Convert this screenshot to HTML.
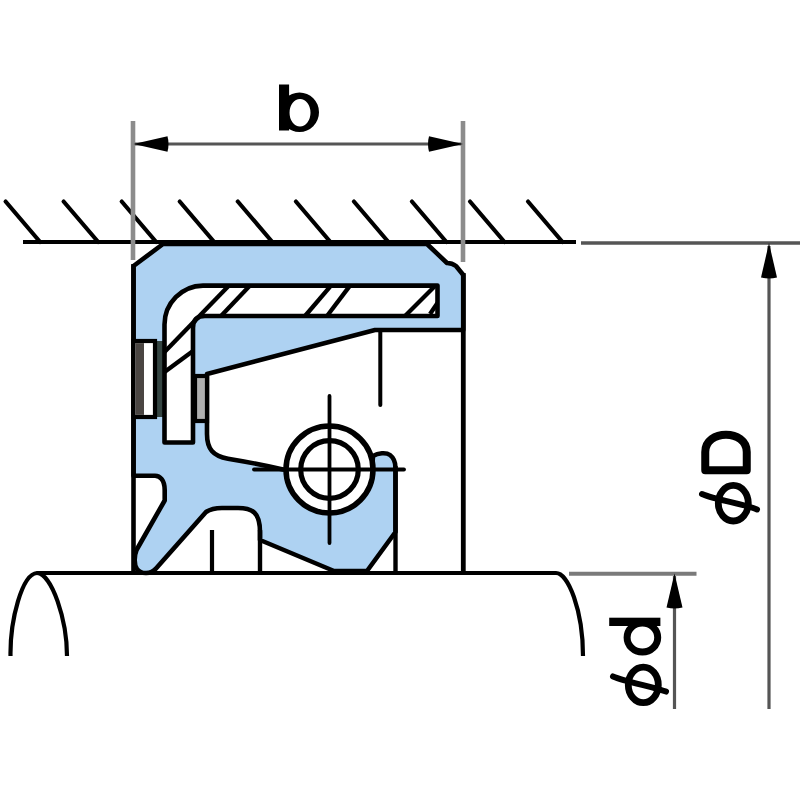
<!DOCTYPE html>
<html>
<head>
<meta charset="utf-8">
<style>
html,body{margin:0;padding:0;background:#fff;width:800px;height:800px;overflow:hidden;}
svg{display:block;}
</style>
</head>
<body>
<svg width="800" height="800" viewBox="0 0 800 800">
<rect x="0" y="0" width="800" height="800" fill="#ffffff"/>

<!-- housing hatching -->
<g stroke="#000" stroke-width="4.2" stroke-linecap="round" fill="none">
  <line x1="5.6" y1="201.5" x2="40.1" y2="242"/>
  <line x1="63.6" y1="201.5" x2="98.2" y2="242"/>
  <line x1="121.7" y1="201.5" x2="156.2" y2="242"/>
  <line x1="179.7" y1="201.5" x2="214.2" y2="242"/>
  <line x1="237.8" y1="201.5" x2="272.3" y2="242"/>
  <line x1="295.9" y1="201.5" x2="330.4" y2="242"/>
  <line x1="353.9" y1="201.5" x2="388.4" y2="242"/>
  <line x1="411.9" y1="201.5" x2="446.4" y2="242"/>
  <line x1="470.0" y1="201.5" x2="504.5" y2="242"/>
  <line x1="528.0" y1="201.5" x2="562.5" y2="242"/>
</g>

<!-- seal body (blue) -->
<path fill="#aed2f2" stroke="#000" stroke-width="4.6" stroke-linejoin="round"
 d="M133.5 266 L163 244 L427 244 L447 263 Q452 263 456 266 L463.3 275 L463.3 330 L375 330 L207 374 L207 434
    C207 449 213 456 228 458.7 C240 460.7 262 464.5 283 469.5 L372 469.5 L373 456 C378 453 386 452 390 455 C394 458 395.5 462 395.5 468 L395.5 532 L367 571 L334 571 L260 540 L260 532
    C260 512 252 508 238 508 L222 508 C214 508 209 510 206 512 L156 568.5 C151 574.5 141 574.5 137 569 C134 565 134 556 136.5 550
    L164.7 500.5 L164.7 490 C164.7 480 160 475.7 155 475.7 L133.5 475.7 Z"/>

<!-- left outer edge full -->
<line x1="133.5" y1="264" x2="133.5" y2="572" stroke="#000" stroke-width="4.6"/>
<!-- right outer edge continuing to shaft -->
<line x1="463.3" y1="273" x2="463.3" y2="572" stroke="#000" stroke-width="4.8"/>
<!-- vertical at 396 -->
<line x1="395.5" y1="466" x2="395.5" y2="572" stroke="#000" stroke-width="4.4"/>
<line x1="260" y1="530" x2="260" y2="572" stroke="#000" stroke-width="4.4"/>
<line x1="212" y1="530" x2="212" y2="572" stroke="#000" stroke-width="4.2"/>
<line x1="380.3" y1="330" x2="380.3" y2="405" stroke="#000" stroke-width="4" stroke-linecap="round"/>

<!-- left notch -->
<rect x="154" y="341" width="9" height="76" fill="#354542"/>
<rect x="133.5" y="341" width="21.5" height="76" fill="#fff" stroke="#000" stroke-width="4.2"/>
<rect x="135.6" y="343.1" width="8.4" height="71.8" fill="#4a4542"/>
<!-- right strip -->
<rect x="195" y="376" width="12" height="45" fill="#b0b0b0" stroke="#000" stroke-width="4.2"/>

<!-- metal case -->
<path fill="#fff" stroke="#000" stroke-width="4.6" stroke-linejoin="round"
 d="M437.5 285.6 L203 285.6 A39 39 0 0 0 164.5 324.6 L164.5 442.5 L193 442.5 L193 328 Q193 316 205 316 L437.5 316 Z"/>
<g stroke="#000" stroke-width="4.3" fill="none">
  <line x1="164.5" y1="352" x2="229" y2="285.6"/>
  <line x1="221" y1="316" x2="250" y2="285.6"/>
  <line x1="164.5" y1="372" x2="193" y2="351"/>
  <line x1="305" y1="316" x2="331" y2="285.6"/>
  <line x1="327" y1="316" x2="350" y2="285.6"/>
  <line x1="405" y1="316" x2="435" y2="286"/>
  <line x1="430" y1="314" x2="437.5" y2="303"/>
</g>

<!-- spring -->
<circle cx="329.5" cy="469.5" r="43.5" fill="#fff" stroke="#000" stroke-width="5.5"/>
<circle cx="329.5" cy="469.5" r="28.8" fill="#fff" stroke="#000" stroke-width="5.2"/>
<line x1="329.5" y1="396" x2="329.5" y2="543" stroke="#000" stroke-width="3.8" stroke-linecap="round"/>
<line x1="254" y1="469.5" x2="404" y2="469.5" stroke="#000" stroke-width="3.8" stroke-linecap="round"/>

<!-- housing line -->
<line x1="23" y1="242" x2="576" y2="242" stroke="#000" stroke-width="4.2"/>

<!-- shaft -->
<path fill="none" stroke="#000" stroke-width="4.2" d="M10.5 656 C10 620 22 574 37 573 L556 573 C568 573 583 610 583 656"/>
<path fill="none" stroke="#000" stroke-width="4.2" d="M37 573 C52 574 67 620 67 656"/>

<!-- dimension b -->
<g stroke="#555" stroke-width="3.2" fill="none">
  <line x1="133" y1="121" x2="133" y2="260" stroke="#8c8c8c" stroke-width="4.6"/>
  <line x1="463" y1="121" x2="463" y2="262" stroke="#8c8c8c" stroke-width="4.6"/>
  <line x1="135" y1="144" x2="461" y2="144"/>
  <line x1="581" y1="243" x2="800" y2="243" stroke-width="3.6"/>
  <line x1="769" y1="246" x2="769" y2="709"/>
  <line x1="569" y1="573.7" x2="696.5" y2="573.7" stroke="#7a7a7a" stroke-width="4"/>
  <line x1="674.5" y1="576" x2="674.5" y2="709"/>
</g>
<g fill="#000">
  <path d="M133.5 144 L167.5 136.3 Q169.5 144 167.5 151.7 Z"/>
  <path d="M463 144 L429 136.3 Q427 144 429 151.7 Z"/>
  <path d="M769 243 L761 277.5 Q769 279.5 777 277.5 Z"/>
  <path d="M674.5 573.5 L666.5 607.5 Q674.5 609.5 682.5 607.5 Z"/>
</g>

<!-- text b -->
<rect x="279" y="84.5" width="10.1" height="46" fill="#000"/>
<path fill="#000" fill-rule="evenodd" d="M280 112.2 A19.5 19.8 0 1 0 319 112.2 A19.5 19.8 0 1 0 280 112.2 Z M289.5 112.75 A10.5 13.75 0 1 0 310.5 112.75 A10.5 13.75 0 1 0 289.5 112.75 Z"/>

<!-- phi D -->
<path fill="none" stroke="#000" stroke-width="8" stroke-linejoin="round" d="M705.25 470.25 L705.25 452 C705.25 429 746.75 429 746.75 452 L746.75 470.25 Z"/>
<ellipse cx="733.3" cy="503.2" rx="15" ry="17.8" fill="none" stroke="#000" stroke-width="6.8"/>
<path fill="none" stroke="#000" stroke-width="6" stroke-linecap="round" d="M702 494 C715 500 745 504 757 509.4"/>

<!-- phi d -->
<rect x="609.2" y="617.7" width="51.2" height="8.3" fill="#000"/>
<ellipse cx="642.4" cy="637.5" rx="15.3" ry="14.6" fill="none" stroke="#000" stroke-width="7"/>
<ellipse cx="643.3" cy="684.9" rx="15" ry="17.8" fill="none" stroke="#000" stroke-width="6.8"/>
<path fill="none" stroke="#000" stroke-width="6" stroke-linecap="round" d="M613 676.4 C626 682 655 687 666 691.6"/>

</svg>
</body>
</html>
